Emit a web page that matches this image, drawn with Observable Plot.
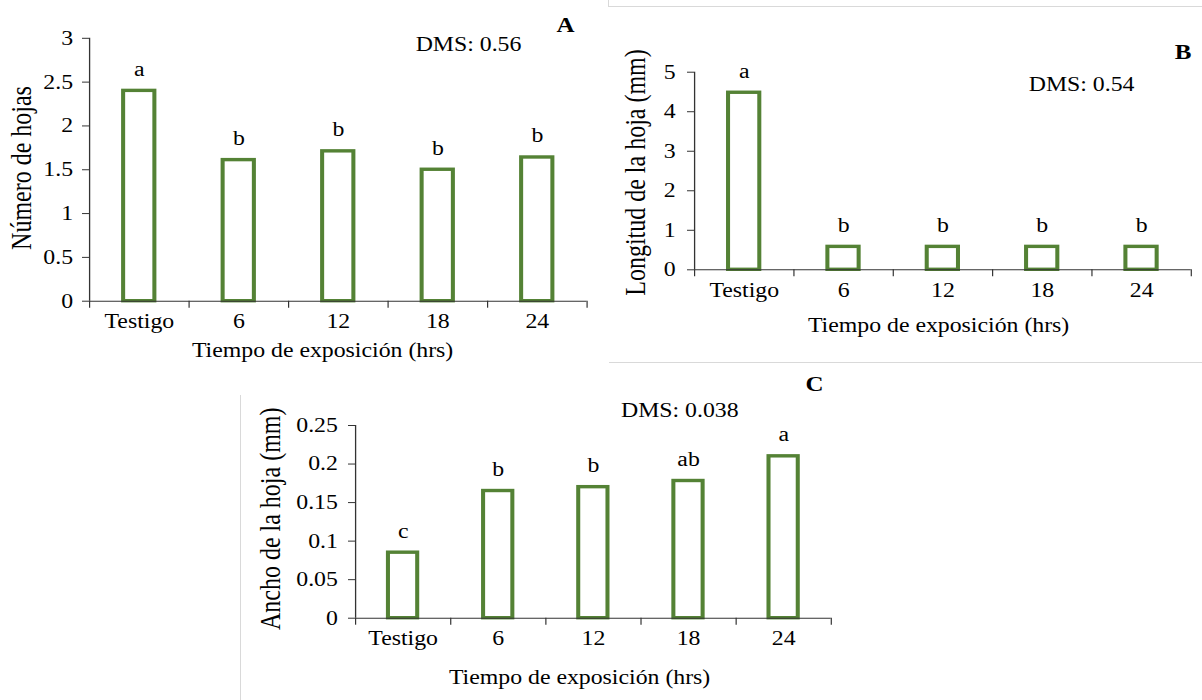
<!DOCTYPE html>
<html><head><meta charset="utf-8">
<script src="https://cdn.jsdelivr.net/npm/d3@7"></script>
<script src="https://cdn.jsdelivr.net/npm/@observablehq/plot@0.6"></script>
<style>
html,body{margin:0;padding:0;background:#fff;}
#root{position:relative;width:1202px;height:700px;overflow:hidden;background:#fff;}
.panel{position:absolute;overflow:hidden;}
.gline{position:absolute;background:#d9d9d9;}
</style></head><body><div id="root"></div>
<script>
// ---- data ----
const categories = ["Testigo", "6", "12", "18", "24"];
const hojasA = [2.4, 1.61, 1.71, 1.5, 1.64];
const lettersA = ["a", "b", "b", "b", "b"];
const ticksA = [0, 0.5, 1, 1.5, 2, 2.5, 3];
const longitudB = [4.48, 0.58, 0.58, 0.58, 0.58];
const lettersB = ["a", "b", "b", "b", "b"];
const ticksB = [0, 1, 2, 3, 4, 5];
const anchoC = [0.085, 0.165, 0.17, 0.178, 0.21];
const lettersC = ["c", "b", "b", "ab", "a"];
const ticksC = [0, 0.05, 0.1, 0.15, 0.2, 0.25];
const xTitle = "Tiempo de exposición (hrs)";
const yTitles = ["Número de hojas", "Longitud de la hoja (mm)", "Ancho de la hoja (mm)"];
const dmsLabels = ["DMS: 0.56", "DMS: 0.54", "DMS: 0.038"];
const panelLetters = ["A", "B", "C"];

// ---- layout ----
const S = 1.19; // horizontal stretch of the original picture
const GREEN = "#548235", AXIS = "#333";
const FONT = '"Liberation Serif", "Times New Roman", Times, serif';
const root = document.getElementById("root");

function panel(cfg) {
  const {box, axis, values, letters, ticks, ymax, ytitle, ytitlePos, xtitlePos, dms, dmsPos, letter, letterPos, barOuter, ytickGap} = cfg;
  const W = box.w / S, H = box.h;
  const mL = (axis.x0 - box.l) / S, mR = (box.l + box.w - axis.x1) / S;
  const mT = axis.yTop - box.t, mB = box.t + box.h - axis.y0;
  const n = categories.length;
  const band = (axis.x1 - axis.x0) / n / S;
  const sw = 3.4;
  const inset = (band - (barOuter / S - sw)) / 2;
  const data = categories.map((c, i) => ({i, c, v: values[i], l: letters[i]}));
  const fa = (X, Y) => ({frameAnchor: "top-left", dx: (X - box.l) / S - mL, dy: (Y - box.t) - mT});
  const tSize = 7 / S;
  const svg = Plot.plot({
    width: W, height: H,
    marginLeft: mL, marginRight: mR, marginTop: mT, marginBottom: mB,
    style: {fontFamily: FONT, fontSize: "20px", color: "#000", background: "transparent"},
    x: {type: "linear", domain: [0, n], axis: null},
    y: {type: "linear", domain: [0, ymax], axis: null},
    marks: [
      Plot.rectY(data, {x1: "i", x2: d => d.i + 1, y: "v", insetLeft: inset, insetRight: inset,
        fill: "white", stroke: GREEN, strokeWidth: sw}),
      Plot.ruleX([0], {stroke: AXIS, strokeWidth: 1.1}),
      Plot.ruleY([0], {stroke: AXIS, strokeWidth: 1.1}),
      Plot.axisY({ticks, tickFormat: d => String(d), tickSize: tSize, tickPadding: ytickGap / S - tSize,
        stroke: AXIS, fill: "#000", label: null}),
      Plot.axisX({ticks: d3.range(n + 1), tickFormat: () => "", tickSize: 7, stroke: AXIS, label: null}),
      Plot.axisX({ticks: d3.range(n).map(i => i + 0.5), tickFormat: d => categories[Math.floor(d)],
        tickSize: 0, tickPadding: 13, fill: "#000", label: null}),
      Plot.text(data, {x: d => d.i + 0.5, y: "v", text: "l", lineAnchor: "bottom", dy: -15, fontSize: 20}),
      Plot.text([ytitle], {...fa(ytitlePos[0], ytitlePos[1]), text: d => d, rotate: -90,
        textAnchor: "middle", lineAnchor: "middle", fontSize: 24}),
      Plot.text([xTitle], {...fa(xtitlePos[0], xtitlePos[1]), text: d => d,
        textAnchor: "middle", lineAnchor: "bottom", fontSize: 20}),
      Plot.text([dms], {...fa(dmsPos[0], dmsPos[1]), text: d => d,
        textAnchor: "middle", lineAnchor: "bottom", fontSize: 20}),
      Plot.text([letter], {...fa(letterPos[0], letterPos[1]), text: d => d,
        textAnchor: "middle", lineAnchor: "bottom", fontSize: 21, fontWeight: "bold"})
    ]
  });
  svg.setAttribute("preserveAspectRatio", "none");
  svg.setAttribute("width", box.w);
  svg.setAttribute("height", box.h);
  svg.style.width = box.w + "px";
  svg.style.height = box.h + "px";
  svg.style.maxWidth = "none";
  const div = document.createElement("div");
  div.className = "panel";
  Object.assign(div.style, {left: box.l + "px", top: box.t + "px", width: box.w + "px", height: box.h + "px"});
  div.appendChild(svg);
  root.appendChild(div);
}

panel({
  box: {l: 0, t: 0, w: 600, h: 362},
  axis: {x0: 89, x1: 586.5, y0: 300.7, yTop: 37.8},
  values: hojasA, letters: lettersA, ticks: ticksA, ymax: 3, ytickGap: 16.5,
  ytitle: yTitles[0], ytitlePos: [20.8, 167.5],
  xtitlePos: [322, 356], dms: dmsLabels[0], dmsPos: [467.9, 50.6],
  letter: panelLetters[0], letterPos: [565, 31.7], barOuter: 35.3
});
panel({
  box: {l: 600, t: 0, w: 602, h: 362},
  axis: {x0: 694, x1: 1190.7, y0: 269.3, yTop: 71.7},
  values: longitudB, letters: lettersB, ticks: ticksB, ymax: 5, ytickGap: 19,
  ytitle: yTitles[1], ytitlePos: [635.7, 172],
  xtitlePos: [938, 331.6], dms: dmsLabels[1], dmsPos: [1081, 90],
  letter: panelLetters[1], letterPos: [1182.5, 58.3], barOuter: 35.3
});
panel({
  box: {l: 241, t: 362, w: 600, h: 338},
  axis: {x0: 355, x1: 830.7, y0: 617.7, yTop: 425},
  values: anchoC, letters: lettersC, ticks: ticksC, ymax: 0.25, ytickGap: 17.7,
  ytitle: yTitles[2], ytitlePos: [270.5, 518.3],
  xtitlePos: [579, 683.3], dms: dmsLabels[2], dmsPos: [679.2, 416.6],
  letter: panelLetters[2], letterPos: [814, 390], barOuter: 33.3
});

// faint frame lines of the pasted figure pieces
[[608, 0, 1, 7], [608, 6, 594, 1], [609, 362, 593, 1], [240, 395, 1, 305]].forEach(([l, t, w, h]) => {
  const d = document.createElement("div");
  d.className = "gline";
  Object.assign(d.style, {left: l + "px", top: t + "px", width: w + "px", height: h + "px"});
  root.appendChild(d);
});
</script></body></html>
